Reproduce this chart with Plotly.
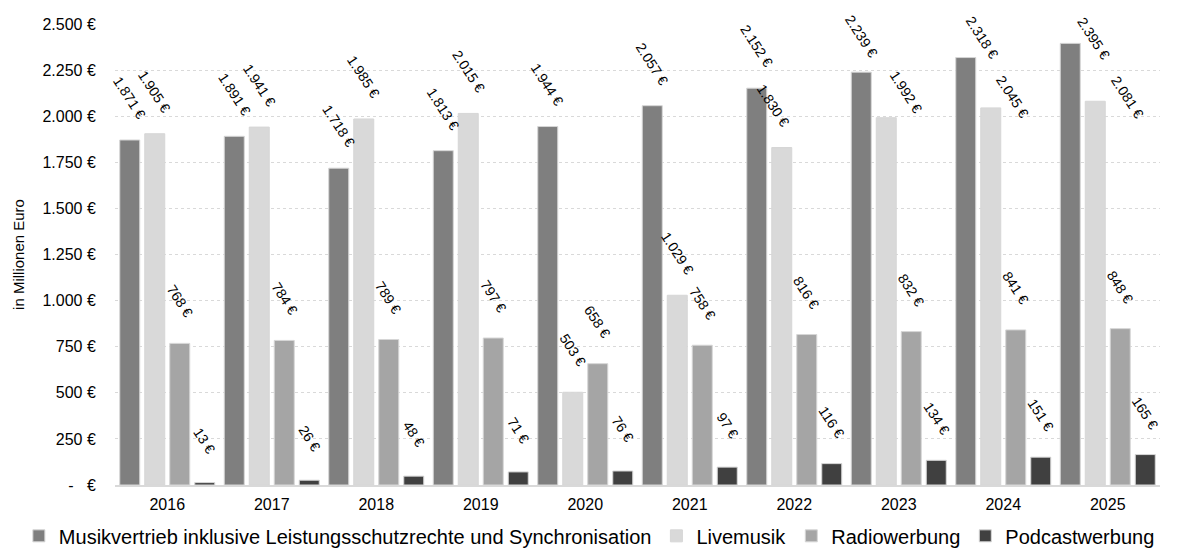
import plotly.graph_objects as go

years = [2016, 2017, 2018, 2019, 2020, 2021, 2022, 2023, 2024, 2025]
series_names = [
    "Musikvertrieb inklusive Leistungsschutzrechte und Synchronisation",
    "Livemusik",
    "Radiowerbung",
    "Podcastwerbung",
]
musikvertrieb = [1871, 1891, 1718, 1813, 1944, 2057, 2152, 2239, 2318, 2395]
livemusik = [1905, 1941, 1985, 2015, 503, 1029, 1830, 1992, 2045, 2081]
radiowerbung = [768, 784, 789, 797, 658, 758, 816, 832, 841, 848]
podcastwerbung = [13, 26, 48, 71, 76, 97, 116, 134, 151, 165]
y_tickvals = [0, 250, 500, 750, 1000, 1250, 1500, 1750, 2000, 2250, 2500]
y_ticktext = ["-\u00a0\u00a0\u00a0€", "250 €", "500 €", "750 €", "1.000 €", "1.250 €",
              "1.500 €", "1.750 €", "2.000 €", "2.250 €", "2.500 €"]

colors = ["#7F7F7F", "#D9D9D9", "#A5A5A5", "#404040"]
all_series = [musikvertrieb, livemusik, radiowerbung, podcastwerbung]

FONT = "Liberation Sans, Arial, sans-serif"
BARGAP = 0.043
BARGROUPGAP = 0.2
LABEL_LIFT = 42  # px from bar end to label centre

# manual label nudges (pixels, dx right, dy down) as in the original layout
LABEL_NUDGE = {
    (0, 2023): (0, 6), (0, 2024): (17, 22), (0, 2025): (23, 37),
    (1, 2022): (-8, 0), (1, 2023): (20, 16), (1, 2024): (22, 31), (1, 2025): (32, 38),
}


def fmt(v):
    return f"{v:,}".replace(",", ".") + " €"


fig = go.Figure()
for name, vals, col in zip(series_names, all_series, colors):
    fig.add_trace(go.Bar(
        x=years, y=vals, name=name,
        marker=dict(color=col, line=dict(color="#D6D6D6", width=1)),
    ))

slot = (1 - BARGAP) / len(all_series)
annotations = []
for i, vals in enumerate(all_series):
    off = (i - (len(all_series) - 1) / 2) * slot
    for yr, v in zip(years, vals):
        dx, dy = LABEL_NUDGE.get((i, yr), (0, 0))
        annotations.append(dict(
            x=yr + off, y=v, xref="x", yref="y",
            text=fmt(v), showarrow=False, textangle=57,
            xanchor="center", yanchor="middle",
            xshift=dx, yshift=LABEL_LIFT - dy,
            font=dict(family=FONT, size=14, color="#000000"),
        ))

fig.update_layout(
    width=1184, height=550,
    barmode="group", bargap=BARGAP, bargroupgap=BARGROUPGAP,
    plot_bgcolor="white", paper_bgcolor="white",
    margin=dict(l=115, r=24, t=24, b=65, autoexpand=False),
    font=dict(family=FONT, size=16, color="#000000"),
    annotations=annotations,
    legend=dict(
        orientation="h", xref="paper", yref="paper",
        x=-0.092, xanchor="left", y=-0.068, yanchor="top",
        font=dict(family=FONT, size=20, color="#000000"),
        traceorder="normal", borderwidth=0,
    ),
    xaxis=dict(
        range=[2015.5, 2025.5], tickvals=years, ticktext=[str(y) for y in years],
        showgrid=False, showline=True, linecolor="#D9D9D9", linewidth=1.5,
        ticks="outside", ticklen=4, tickcolor="rgba(0,0,0,0)",
        tickfont=dict(size=16), zeroline=False,
    ),
    yaxis=dict(
        range=[0, 2500], tickvals=y_tickvals, ticktext=y_ticktext,
        showgrid=True, gridcolor="#D9D9D9", griddash="3px,3px", gridwidth=1,
        zeroline=False, showline=False,
        ticks="outside", ticklen=15, tickcolor="rgba(0,0,0,0)",
        tickfont=dict(size=16),
        title=dict(text="in Millionen Euro", font=dict(size=15), standoff=14),
    ),
)

fig.write_html("out.html", config={"displayModeBar": False},
               post_script="document.body.style.margin='0';")
